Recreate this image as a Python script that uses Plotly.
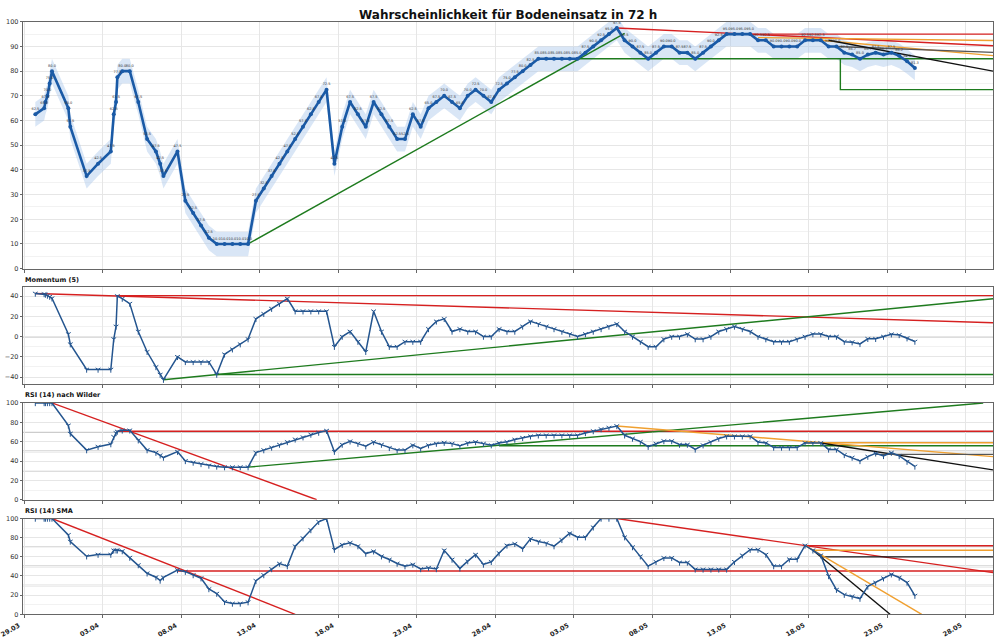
import pandas as pd
import plotly.graph_objects as go

# ---------------- data ----------------
early_times = ["2025-03-29 16:30", "2025-03-30 06:00", "2025-03-30 08:00", "2025-03-30 11:00",
               "2025-03-30 14:30", "2025-03-30 18:00", "2025-03-31 19:00", "2025-03-31 22:00",
               "2025-04-01 23:00", "2025-04-02 16:30", "2025-04-03 12:00", "2025-04-03 16:30",
               "2025-04-03 20:00", "2025-04-03 22:00", "2025-04-04 05:30", "2025-04-04 17:00",
               "2025-04-05 06:00", "2025-04-05 19:30", "2025-04-06 09:00", "2025-04-06 15:30",
               "2025-04-06 20:30"]
regular_times = pd.date_range("2025-04-07 18:00", "2025-05-24 18:00", freq="12h")
times = list(pd.to_datetime(early_times)) + list(regular_times)

prob = [62.5, 65, 67.5, 70, 75, 80, 65, 57.5, 37.5, 42.5, 47.5, 62.5, 67.5, 77.5, 80, 80,
        67.5, 52.5, 47.5, 42.5, 37.5,
        47.5, 27.5, 22.5, 17.5, 12.5, 10, 10, 10, 10, 10,
        27.5, 32.5, 37.5, 42.5, 47.5, 52.5, 57.5, 62.5, 67.5, 72.5,
        42.5, 57.5, 67.5, 62.5, 57.5, 67.5, 62.5, 57.5, 52.5, 52.5,
        62.5, 57.5, 65, 67.5, 70, 67.5, 65, 70, 72.5, 70,
        67.5, 72.5, 75, 77.5, 80, 82.5, 85, 85, 85, 85,
        85, 85, 87.5, 90, 92.5, 95, 97.5, 92.5, 90, 87.5,
        85, 87.5, 90, 90, 87.5, 87.5, 85, 87.5, 90, 92.5,
        95, 95, 95, 95, 92.5, 92.5, 90, 90, 90, 90,
        92.5, 92.5, 92.5, 90, 90, 87.5, 86.7, 85, 86.7, 87.5,
        86.7, 87.5, 86.2, 84, 81.3]

momentum = [42.5, 42, 41.5, 40.5, 39.4, 37.8, 2.5, -7.5, -32.5, -32.5, -32.5, -2.5, 10, 40,
            37.5, 32.5, 5, -15, -30, -37.5, -42.5,
            -20, -25, -25, -25, -25, -37.5, -17.5, -12.5, -7.5, -2.5,
            17.5, 22.5, 27.5, 32.5, 37.5, 25, 25, 25, 25, 25,
            -10, 0, 5, -5, -15, 25, 5, -10, -10, -5,
            -5, -5, 7.5, 15, 17.5, 5, 7.5, 5, 5, 0,
            0, 7.5, 5, 5, 10, 15, 12.5, 10, 7.5, 5,
            2.5, 0, 2.5, 5, 7.5, 10, 12.5, 5, 0, -5,
            -10, -10, -2.5, 0, 0, 2.5, -2.5, -2.5, 0, 5,
            7.5, 10, 7.5, 5, 0, -2.5, -5, -5, -5, -2.5,
            0, 2.5, 2.5, 0, 0, -5, -5.5, -7.2, -2.2, -2.2,
            0, 2.3, 1.6, -1.6, -4.9]

rsi_wilder = [100, 100, 100, 100, 100, 100, 76.8, 68.4, 51.3, 54.8, 57.5, 65, 69, 70.5, 71.7,
              71.7, 61.5, 51.3, 48.7, 46, 43.6,
              49.7, 40.1, 38.5, 37, 35.4, 34.4, 33.7, 33.7, 33.7, 33.7,
              48.7, 51.3, 54, 57, 59.7, 62.4, 64.6, 67.4, 69.4, 71.4,
              49.7, 57, 60.4, 58, 55.3, 59.7, 57, 53.6, 51.3, 51.3,
              56.4, 53, 56.4, 58, 59, 58, 55.7, 58.7, 59.7, 58,
              56.4, 58.7, 59.9, 62.2, 64, 65.6, 66.6, 66.6, 66.6, 66.6,
              66.6, 66.6, 69, 71, 73, 74.5, 76.2, 66.6, 63.3, 60,
              54.8, 58, 60.7, 60.7, 57, 57, 52, 56.4, 59.7, 63.3,
              65.6, 65.6, 65.6, 65.6, 59.7, 58.7, 54, 54, 54, 54,
              58.7, 58.7, 58.7, 52, 52, 46.3, 43.6, 40.1, 44.6, 48,
              45.3, 48.7, 45.3, 39.4, 34.4]

rsi_sma = [100, 100, 100, 100, 100, 100, 82.9, 76, 60.6, 62.3, 62.3, 66.8, 66.8, 66.8, 66,
           59.2, 51.4, 42.8, 38.7, 35.3, 38.5,
           46.2, 44.5, 41, 37.7, 26.4, 21.6, 13, 11.3, 11.3, 12.7,
           35, 41, 47.3, 53, 50.3, 71, 79.5, 88, 96.6, 100,
           67.5, 72.6, 74.7, 71.2, 63.4, 65.8, 60.6, 57.2, 53, 50.3,
           52, 47.3, 48.6, 47.3, 66.8, 57.2, 48, 55.5, 62.3, 52,
           54.8, 64, 71.9, 73.6, 68.5, 78.8, 76, 74.3, 71.2, 77.7,
           84.6, 80.5, 80.5, 90.8, 100, 100, 100, 80.5, 70.2, 60.6,
           50.3, 54.8, 58.9, 58.9, 54.1, 54.1, 46.9, 46.9, 46.9, 46.9,
           46.9, 54.8, 61.6, 67.5, 67.5, 62.3, 50.3, 50.3, 57.5, 57.5,
           71.9, 66.8, 61.6, 40, 25.7, 20.5, 18.8, 16.4, 29.1, 33.2,
           37.7, 41.8, 38.4, 33.2, 19.5]

X_START = "2025-03-28 21:40"
X_END = "2025-05-29 17:30"
tick_dates = ["2025-03-29", "2025-04-03", "2025-04-08", "2025-04-13", "2025-04-18", "2025-04-23",
              "2025-04-28", "2025-05-03", "2025-05-08", "2025-05-13", "2025-05-18", "2025-05-23",
              "2025-05-28"]
tick_labels = ["29.03", "03.04", "08.04", "13.04", "18.04", "23.04", "28.04", "03.05", "08.05",
               "13.05", "18.05", "23.05", "28.05"]

# trend / level lines: (panel, colour, [(time, value), ...])
RED, GREEN, ORANGE, BLACK, DGRAY = "#d62020", "#1e7b1e", "#f0a030", "#111111", "#555555"
trend_lines = [
    (1, GREEN, [("2025-04-12 06:00", 10), ("2025-05-06 06:00", 95.3)]),
    (1, GREEN, [("2025-05-03 06:00", 85), (X_END, 85)]),
    (1, GREEN, [("2025-05-20 00:00", 85), ("2025-05-20 00:00", 72.5), (X_END, 72.5)]),
    (1, RED, [("2025-05-05 18:00", 97.5), (X_END, 90.3)]),
    (1, RED, [("2025-05-12 18:00", 95), (X_END, 95)]),
    (1, ORANGE, [("2025-05-14 18:00", 93.6), (X_END, 92.4)]),
    (1, ORANGE, [("2025-05-18 18:00", 92.5), (X_END, 86.3)]),
    (1, DGRAY, [("2025-05-19 18:00", 90), (X_END, 87.6)]),
    (1, BLACK, [("2025-05-19 06:00", 92.5), (X_END, 80)]),
    (2, RED, [("2025-03-29 16:30", 42.5), (X_END, 13.7)]),
    (2, RED, [("2025-04-03 22:00", 40.4), (X_END, 40.4)]),
    (2, GREEN, [("2025-04-06 20:30", -42.6), (X_END, 37.4)]),
    (2, GREEN, [("2025-04-10 06:00", -37.4), (X_END, -37.4)]),
    (3, RED, [("2025-03-30 18:00", 100), ("2025-04-16 15:00", 0)]),
    (3, RED, [("2025-04-03 22:00", 70.8), (X_END, 70.8)]),
    (3, GREEN, [("2025-04-12 06:00", 33.7), ("2025-05-29 02:30", 100)]),
    (3, GREEN, [("2025-04-28 06:00", 55.8), (X_END, 55.8)]),
    (3, ORANGE, [("2025-05-05 18:00", 76.2), (X_END, 44.6)]),
    (3, ORANGE, [("2025-05-17 18:00", 58.9), (X_END, 58.9)]),
    (3, BLACK, [("2025-05-18 18:00", 58.7), (X_END, 30.9)]),
    (3, DGRAY, [("2025-05-22 06:00", 46.9), (X_END, 46.9)]),
    (4, RED, [("2025-03-30 18:00", 100), ("2025-04-15 06:00", 0)]),
    (4, RED, [("2025-04-07 18:00", 45.2), (X_END, 45.2)]),
    (4, RED, [("2025-05-05 18:00", 100), (X_END, 43.5)]),
    (4, RED, [("2025-05-17 18:00", 71.5), (X_END, 71.5)]),
    (4, ORANGE, [("2025-05-18 06:00", 66.8), (X_END, 66.8)]),
    (4, BLACK, [("2025-05-18 18:00", 59.9), (X_END, 59.9)]),
    (4, ORANGE, [("2025-05-17 18:00", 71.9), ("2025-05-25 04:30", 0)]),
    (4, BLACK, [("2025-05-18 06:00", 66.8), ("2025-05-23 04:00", 0)]),
]

# ---------------- layout geometry ----------------
H = 642.0
def dom(top_px, bot_px):
    return [1 - bot_px / H, 1 - top_px / H]

X_DOM = [0.023, 0.993]
Y_DOMS = [dom(18, 268), dom(287, 385), dom(404, 502), dom(521, 618)]

FONT = "DejaVu Sans"
LINE_MAIN = "#1a5aa6"
LINE_SUB = "#24558f"
GRID = "#e6e6e6"
FRAME = "#666666"

fig = go.Figure()

# band and main line
upper = [v + 5 for v in prob]
lower = [v - 5 for v in prob]
fig.add_trace(go.Scatter(x=times, y=upper, mode="lines", line=dict(width=0),
                         hoverinfo="skip", showlegend=False, xaxis="x", yaxis="y"))
fig.add_trace(go.Scatter(x=times, y=lower, mode="lines", line=dict(width=0),
                         fill="tonexty", fillcolor="rgba(170,200,235,0.45)",
                         hoverinfo="skip", showlegend=False, xaxis="x", yaxis="y"))

for panel, color, pts in trend_lines:
    if panel != 1:
        continue
    fig.add_trace(go.Scatter(x=[pd.Timestamp(p[0]) for p in pts], y=[p[1] for p in pts],
                             mode="lines", line=dict(color=color, width=1.4),
                             showlegend=False, xaxis="x", yaxis="y"))

fig.add_trace(go.Scatter(x=times, y=prob, mode="lines+markers+text",
                         text=[f"{v:.1f}" for v in prob], textposition="top center",
                         textfont=dict(size=3.5, color="#333333", family=FONT),
                         line=dict(color=LINE_MAIN, width=2.6),
                         marker=dict(size=4, color=LINE_MAIN),
                         showlegend=False, xaxis="x", yaxis="y"))

# lower panels
sub_series = [(2, momentum), (3, rsi_wilder), (4, rsi_sma)]
for panel, series in sub_series:
    xa, ya = f"x{panel}", f"y{panel}"
    for p2, color, pts in trend_lines:
        if p2 != panel:
            continue
        fig.add_trace(go.Scatter(x=[pd.Timestamp(p[0]) for p in pts], y=[p[1] for p in pts],
                                 mode="lines", line=dict(color=color, width=1.4),
                                 showlegend=False, xaxis=xa, yaxis=ya))
    fig.add_trace(go.Scatter(x=times, y=series, mode="lines+markers",
                             line=dict(color=LINE_SUB, width=1.5),
                             marker=dict(symbol="y-down-open", size=4,
                                         line=dict(color=LINE_SUB, width=1)),
                             showlegend=False, xaxis=xa, yaxis=ya))

shapes = []
# zero line momentum
shapes.append(dict(type="line", xref="x2 domain", yref="y2", x0=0, x1=1, y0=0, y1=0,
                   line=dict(color="#777777", width=1.2), layer="below"))
for ref in ("y3", "y4"):
    for lvl in (30, 50, 70):
        shapes.append(dict(type="line", xref=ref.replace("y", "x") + " domain", yref=ref,
                           x0=0, x1=1, y0=lvl, y1=lvl,
                           line=dict(color="#bbbbbb", width=1.6), layer="below"))

def xaxis(anchor):
    return dict(domain=X_DOM, anchor=anchor, type="date",
                range=[X_START, X_END], tickvals=tick_dates, showticklabels=False,
                ticks="outside", ticklen=3, tickcolor=FRAME,
                showgrid=True, gridcolor=GRID, gridwidth=0.8,
                showline=True, linecolor=FRAME, linewidth=1.4, mirror=True, zeroline=False)

def yaxis(anchor, dmn, rng, dtick, minor):
    return dict(domain=dmn, anchor=anchor, range=rng, dtick=dtick,
                tickfont=dict(size=6.5, family=FONT, color="#333333"),
                ticks="outside", ticklen=2, tickcolor=FRAME,
                showgrid=True, gridcolor=GRID, gridwidth=0.8,
                minor=dict(dtick=minor, showgrid=True, gridcolor="#f2f2f2", gridwidth=0.6),
                showline=True, linecolor=FRAME, linewidth=1.4, mirror=True, zeroline=False)

annotations = [
    dict(text="<b>Wahrscheinlichkeit für Bodeneinsatz in 72 h</b>", x=0.508, y=1 - 11 / H,
         xref="paper", yref="paper", showarrow=False, xanchor="center", yanchor="middle",
         font=dict(size=12, family=FONT, color="#111111")),
    dict(text="<b>Momentum (5)</b>", x=0.023, y=1 - 285.5 / H, xref="paper", yref="paper",
         showarrow=False, xanchor="left", yanchor="bottom", font=dict(size=6.5, family=FONT, color="#111111")),
    dict(text="<b>RSI (14) nach Wilder</b>", x=0.023, y=1 - 402.5 / H, xref="paper", yref="paper",
         showarrow=False, xanchor="left", yanchor="bottom", font=dict(size=6.5, family=FONT, color="#111111")),
    dict(text="<b>RSI (14) SMA</b>", x=0.023, y=1 - 519.5 / H, xref="paper", yref="paper",
         showarrow=False, xanchor="left", yanchor="bottom", font=dict(size=6.5, family=FONT, color="#111111")),
]
for d, lab in zip(tick_dates, tick_labels):
    annotations.append(dict(text=f"<b>{lab}</b>", x=d, xref="x4", y=1 - 622 / H, yref="paper",
                            showarrow=False, xanchor="right", yanchor="top", textangle=-30,
                            font=dict(size=6.5, family=FONT, color="#222222")))

fig.update_layout(
    width=1000, height=642, margin=dict(l=0, r=0, t=0, b=0),
    paper_bgcolor="white", plot_bgcolor="white", showlegend=False,
    font=dict(family=FONT),
    xaxis=xaxis("y"), xaxis2=xaxis("y2"), xaxis3=xaxis("y3"), xaxis4=xaxis("y4"),
    yaxis=yaxis("x", Y_DOMS[0], [0, 100], 10, 5),
    yaxis2=yaxis("x2", Y_DOMS[1], [-47, 48.5], 20, 10),
    yaxis3=yaxis("x3", Y_DOMS[2], [0, 100], 20, 10),
    yaxis4=yaxis("x4", Y_DOMS[3], [0, 100], 20, 10),
    shapes=shapes, annotations=annotations,
)

fig.write_html("out.html")
